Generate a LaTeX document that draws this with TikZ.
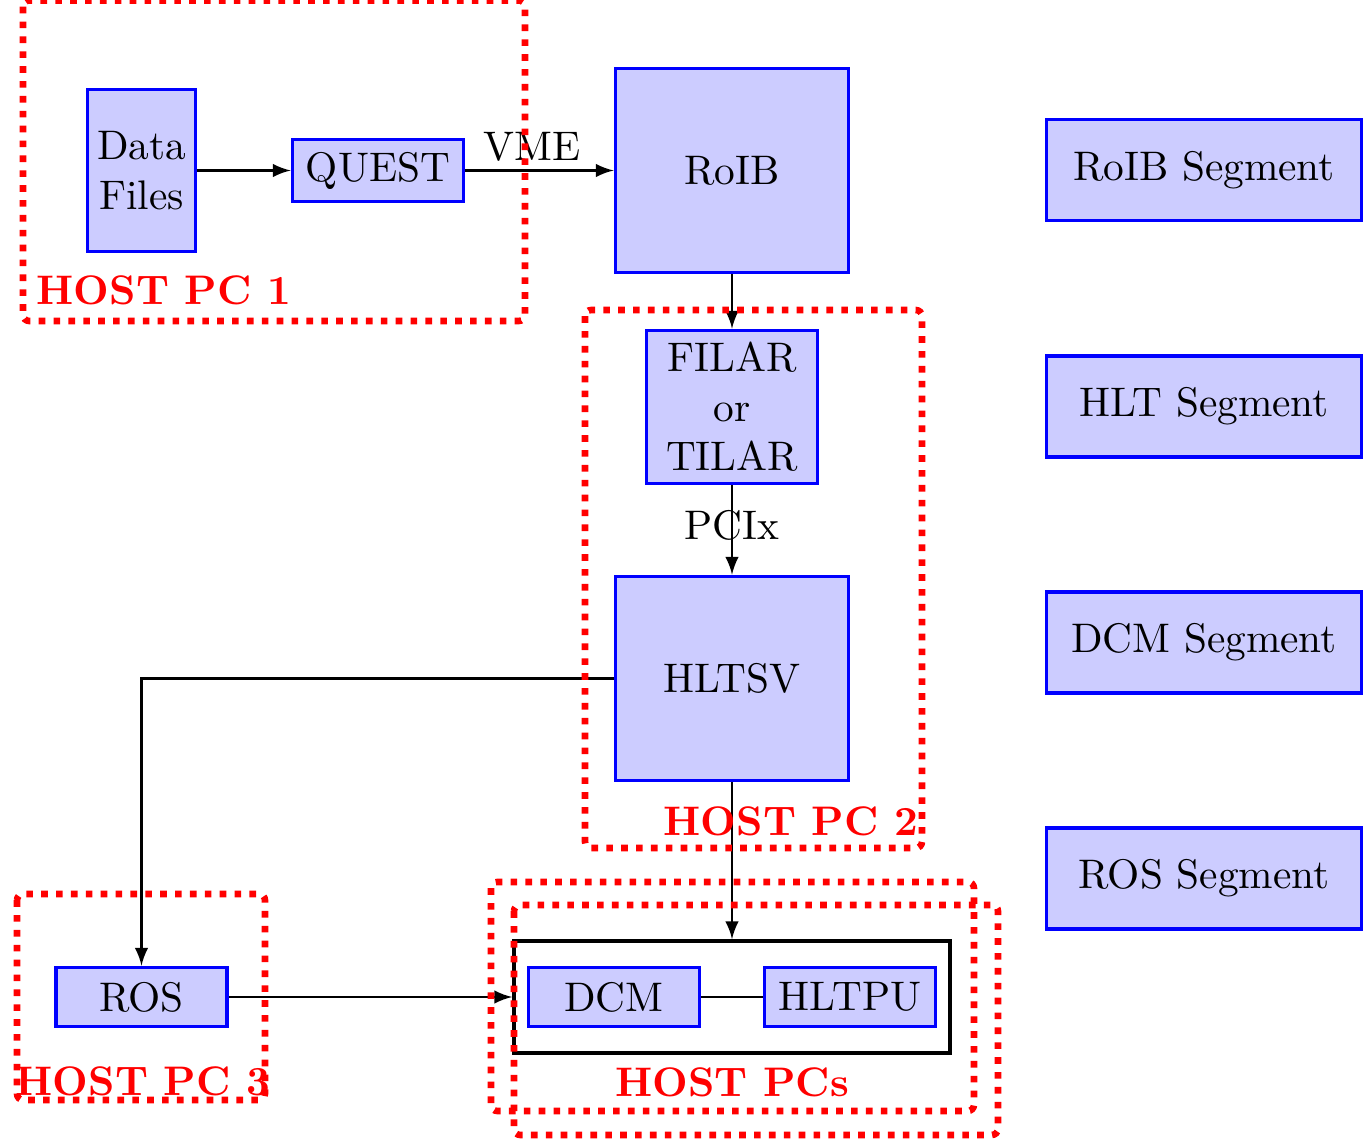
\documentclass[tikz,border=0pt]{standalone}
\usetikzlibrary{arrows}
\begin{document}
\begin{tikzpicture}[x=0.242pt,y=-0.242pt,>=latex,
  blk/.style={draw=blue,fill=blue!20,line width=0.9pt,align=center,inner sep=0pt},
  seg/.style={blk,minimum width=315*0.242pt,minimum height=101*0.242pt},
  small/.style={blk,minimum width=171*0.242pt,minimum height=59*0.242pt},
  big/.style={blk,minimum width=233*0.242pt,minimum height=204*0.242pt},
  host/.style={draw=red,ultra thick,dotted,rounded corners=1.5pt},
  hostlbl/.style={text=red,font=\bfseries,inner sep=0pt},
  conn/.style={->,line width=0.5pt}]
\useasboundingbox (0,0) rectangle (1365,1140);
% blocks
\node[blk,minimum width=108*0.242pt,minimum height=162*0.242pt] (dfiles) at (141.5,170.5) {Data\\Files};
\node[blk,minimum width=171*0.242pt,minimum height=62*0.242pt] (quest) at (378,170.5) {QUEST};
\node[big] (roib) at (732,170.5) {RoIB};
\node[blk,minimum width=171*0.242pt,minimum height=153*0.242pt] (filar) at (732,407) {FILAR\\or\\TILAR};
\node[big] (hltsv) at (732,678.5) {HLTSV};
\node[small] (ros) at (141.5,997) {ROS};
\node[small] (dcm) at (614,997) {DCM};
\node[small] (hltpu) at (850,997) {HLTPU};
\node[draw,line width=0.9pt,minimum width=436*0.242pt,minimum height=112*0.242pt] (box) at (732,997) {};
% segments
\node[seg] (s1) at (1204,170) {RoIB Segment};
\node[seg] (s2) at (1204,406.5) {HLT Segment};
\node[seg] (s3) at (1204,642.5) {DCM Segment};
\node[seg] (s4) at (1204,878.5) {ROS Segment};
% connectors
\draw[conn] (dfiles.east) -- (quest.west);
\draw[conn] (quest.east) -- (roib.west);
\node[inner sep=0pt] (vme) at (532,147) {VME};
\draw[conn] (roib.south) -- (filar.north);
\draw[conn] (filar.south) -- (hltsv.north);
\node[inner sep=0pt] (pcix) at (732,525) {PCIx};
\draw[conn] (hltsv.west) -| (ros.north);
\draw[conn] (hltsv.south) -- (box.north);
\draw[conn] (ros.east) -- (box.west);
\draw[line width=0.5pt] (dcm.east) -- (hltpu.west);
% host labels
\node[hostlbl] (h1) at (164,290) {HOST PC 1};
\node[hostlbl] (h2) at (791,821) {HOST PC 2};
\node[hostlbl] (h3) at (143,1081) {HOST PC 3};
\node[hostlbl] (hs) at (732,1082) {HOST PCs};
% host boundaries
\draw[host] (23,0.5) rectangle (525,321);
\draw[host] (585,310) rectangle (922,848);
\draw[host] (17,894) rectangle (265,1100);
\draw[host] (491,882) rectangle (974,1111);
\draw[host] (514,905) rectangle (998,1135);
\end{tikzpicture}
\end{document}
